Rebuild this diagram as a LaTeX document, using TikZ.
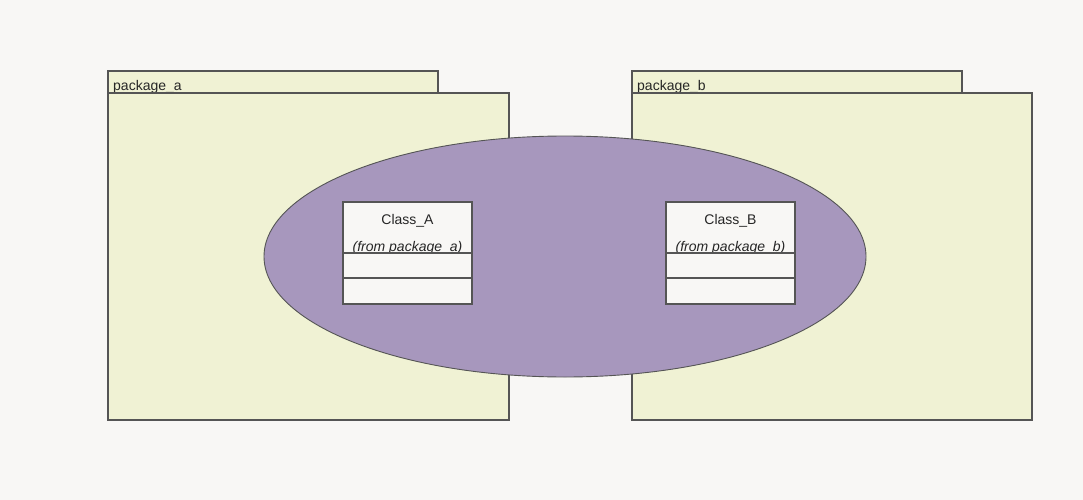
\documentclass[tikz,border=0pt]{standalone}
\usepackage{fontspec}
\setmainfont{Liberation Sans}
\definecolor{bgc}{HTML}{F8F7F5}
\definecolor{pkgfill}{HTML}{F0F2D4}
\definecolor{ellfill}{HTML}{A797BD}
\definecolor{edge}{HTML}{555555}
\tikzset{
  pkg/.style={draw=edge, line width=1.3pt, fill=pkgfill},
  cls/.style={draw=edge, line width=1.1pt, fill=bgc},
  sep/.style={draw=edge, line width=1.1pt},
  txt/.style={inner sep=0pt, font=\fontsize{14}{16}\selectfont, text=black!85},
}
\begin{document}
\begin{tikzpicture}[x=1pt,y=-1pt]
\fill[bgc] (0,0) rectangle (1083,500);
\useasboundingbox (0,0) rectangle (1083,500);
% package a
\draw[pkg] (108,71) rectangle (438,93);
\node[txt, anchor=base west] (pa) at (113,91) {package\_a};
\draw[pkg] (108,93) rectangle (509,420);
% package b
\draw[pkg] (632,71) rectangle (962,93);
\node[txt, anchor=base west] (pb) at (637,91) {package\_b};
\draw[pkg] (632,93) rectangle (1032,420);
% ellipse
\draw[draw=edge, line width=0.9pt, fill=ellfill] (565,256.5) ellipse [x radius=301, y radius=120.5];
% Class A
\draw[cls] (343,202) rectangle (472,304);
\node[txt, anchor=base] (ca) at (407.5,224) {Class\_A};
\node[txt, anchor=base] (fa) at (407.5,251.5) {\itshape(from package\_a)};
\draw[sep] (343,253) -- (472,253);
\draw[sep] (343,278) -- (472,278);
% Class B
\draw[cls] (666,202) rectangle (795,304);
\node[txt, anchor=base] (cb) at (730.5,224) {Class\_B};
\node[txt, anchor=base] (fb) at (730.5,251.5) {\itshape(from package\_b)};
\draw[sep] (666,253) -- (795,253);
\draw[sep] (666,278) -- (795,278);
\end{tikzpicture}
\end{document}
